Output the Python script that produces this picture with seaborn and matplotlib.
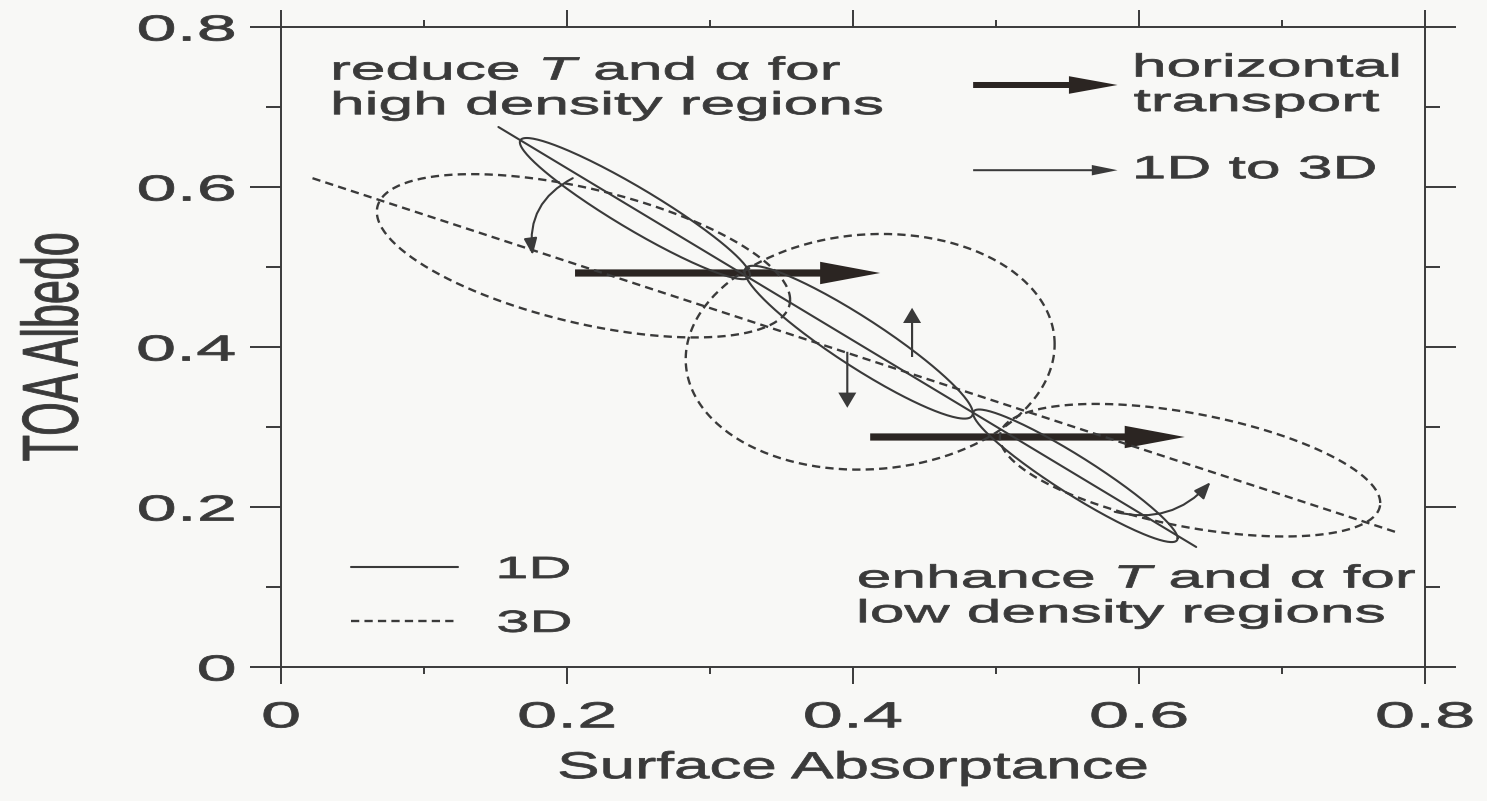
import numpy as np
import matplotlib
matplotlib.use("Agg")
import matplotlib.pyplot as plt
import seaborn as sns
from matplotlib.patheffects import AbstractPathEffect
from matplotlib.transforms import Affine2D

# straight fits through the 1D and 3D clouds (end points)
fit_1d_x = [0.152, 0.640]
fit_1d_y = [0.675, 0.150]
fit_3d_x = [0.022, 0.779]
fit_3d_y = [0.611, 0.169]

# ellipses: centre, half of the left-to-right diameter (ux, uy) and half height above the centre (h)
ell_1d_cx = [0.2475, 0.404, 0.5555]
ell_1d_cy = [0.573, 0.406, 0.239]
ell_1d_ux = [0.0805, 0.0798, 0.0715]
ell_1d_uy = [-0.083, -0.0885, -0.078]
ell_1d_h = [0.030, 0.036, 0.028]

ell_3d_cx = [0.2115, 0.412, 0.6357]
ell_3d_cy = [0.514, 0.394, 0.246]
ell_3d_ux = [0.1445, 0.129, 0.133]
ell_3d_uy = [-0.055, 0.0094, -0.041]
ell_3d_h = [0.086, 0.147, 0.072]

# horizontal transport arrows
push_x0 = [0.2056, 0.412]
push_x1 = [0.419, 0.632]
push_y = [0.4925, 0.2875]

# 1D -> 3D shifts: vertical arrows and curved arrows
shift_x = [0.4413, 0.396]
shift_y0 = [0.3875, 0.394]
shift_y1 = [0.449, 0.324]
bend_x0 = [0.204, 0.583]
bend_y0 = [0.611, 0.194]
bend_x1 = [0.176, 0.650]
bend_y1 = [0.515, 0.231]

ticks = [0, 0.2, 0.4, 0.6, 0.8]
tick_text = ["0", "0.2", "0.4", "0.6", "0.8"]
minor_ticks = [0.1, 0.3, 0.5, 0.7]


# the scanned page is squashed vertically, so every letter looks about twice as wide as tall
class Widen(AbstractPathEffect):
    def __init__(self, sx=2.0, anchor=0.0, stroke=0.6):
        super().__init__()
        self.sx = sx
        self.anchor = anchor
        self.stroke = stroke

    def draw_path(self, renderer, gc, tpath, affine, rgbFace=None):
        ext = tpath.get_extents()
        x0, y0 = affine.transform((ext.x0 + self.anchor * ext.width, 0))
        stretch = Affine2D().translate(-x0, -y0).scale(self.sx, 1).translate(x0, y0)
        gc0 = renderer.new_gc()
        gc0.copy_properties(gc)
        gc0.set_linewidth(self.stroke)
        gc0.set_foreground(rgbFace)
        renderer.draw_path(gc0, tpath, affine + stretch, rgbFace)
        gc0.restore()


sns.set_theme(style="ticks")
plt.rcParams["font.family"] = ["Liberation Sans", "DejaVu Sans"]
plt.rcParams["mathtext.fontset"] = "custom"
plt.rcParams["mathtext.rm"] = "Liberation Sans"
plt.rcParams["mathtext.it"] = "Liberation Sans:italic"

ink = "#3a3a3a"
arrow_ink = "#2b2522"
paper = "#f8f8f6"
dash = (0, (3.5, 2.2))

fig, ax = plt.subplots(figsize=(14.87, 8.01), dpi=100)
fig.patch.set_facecolor(paper)
ax.set_facecolor(paper)
fig.subplots_adjust(left=0.189, right=0.9583, bottom=0.1673, top=0.9663)

t = np.linspace(0, 2 * np.pi, 240)
for cx, cy, ux, uy, h in zip(ell_1d_cx, ell_1d_cy, ell_1d_ux, ell_1d_uy, ell_1d_h):
    sns.lineplot(x=cx + ux * np.cos(t), y=cy + uy * np.cos(t) + h * np.sin(t),
                 sort=False, estimator=None, color=ink, lw=1.5, ax=ax)
for cx, cy, ux, uy, h in zip(ell_3d_cx, ell_3d_cy, ell_3d_ux, ell_3d_uy, ell_3d_h):
    sns.lineplot(x=cx + ux * np.cos(t), y=cy + uy * np.cos(t) + h * np.sin(t),
                 sort=False, estimator=None, color=ink, lw=1.7, ls=dash, ax=ax)

sns.lineplot(x=fit_1d_x, y=fit_1d_y, color=ink, lw=1.5, label="1D", ax=ax)
sns.lineplot(x=fit_3d_x, y=fit_3d_y, color=ink, lw=1.7, ls=dash, label="3D", ax=ax)

for x0, x1, y in zip(push_x0, push_x1, push_y):
    ax.arrow(x0, y, x1 - x0, 0, width=0.009, head_width=0.028, head_length=0.042,
             length_includes_head=True, color=arrow_ink, lw=0)
for x, y0, y1 in zip(shift_x, shift_y0, shift_y1):
    ax.arrow(x, y0, 0, y1 - y0, width=0.0015, head_width=0.0126, head_length=0.019,
             length_includes_head=True, color=ink, lw=0)
for x0, y0, x1, y1, rad in zip(bend_x0, bend_y0, bend_x1, bend_y1, [0.35, 0.3]):
    ax.annotate("", xy=(x1, y1), xytext=(x0, y0),
                arrowprops=dict(arrowstyle="-|>,head_length=0.5,head_width=0.2",
                                connectionstyle=f"arc3,rad={rad}", color=ink, lw=1.5,
                                mutation_scale=20, shrinkA=0, shrinkB=0))

# key for the arrows, top right
ax.arrow(0.484, 0.7275, 0.101, 0, width=0.0075, head_width=0.022, head_length=0.034,
         length_includes_head=True, color=arrow_ink, lw=0)
ax.arrow(0.484, 0.621, 0.101, 0, width=0.0025, head_width=0.013, head_length=0.018,
         length_includes_head=True, color=ink, lw=0)

wide = [Widen(1.95)]
ax.text(0.0357, 0.763, "reduce $T$ and α for\nhigh density regions", fontsize=23,
        color=ink, va="top", ha="left", path_effects=wide)
ax.text(0.5965, 0.767, "horizontal\ntransport", fontsize=23, color=ink, va="top",
        ha="left", path_effects=wide)
ax.text(0.5965, 0.621, "1D to 3D", fontsize=23, color=ink, va="center", ha="left",
        path_effects=wide)
ax.text(0.4035, 0.128, "enhance $T$ and α for\nlow density regions", fontsize=23,
        color=ink, va="top", ha="left", path_effects=wide)

leg = ax.legend(loc="lower left", bbox_to_anchor=(0.061, 0.044), frameon=False,
                fontsize=22, handlelength=3.5, handletextpad=1.3, labelspacing=0.78,
                borderpad=0, borderaxespad=0)
for txt in leg.get_texts():
    txt.set_color(ink)
    txt.set_path_effects([Widen(1.95)])

ax.set_xlim(0, 0.8)
ax.set_ylim(0, 0.8)
ax.set_xticks(ticks, tick_text)
ax.set_yticks(ticks, tick_text)
ax.set_xticks(minor_ticks, minor=True)
ax.set_yticks(minor_ticks, minor=True)
ax.tick_params(which="both", direction="out", top=True, right=True, color=ink,
               width=1.4, labelcolor=ink)
ax.tick_params(axis="x", which="major", length=12, pad=12, labelsize=26)
ax.tick_params(axis="x", which="minor", length=5)
ax.tick_params(axis="y", which="major", length=22, pad=11, labelsize=26)
ax.tick_params(axis="y", which="minor", length=11)
for lab in ax.get_xticklabels():
    lab.set_path_effects([Widen(2.0, 0.5)])
for lab in ax.get_yticklabels():
    lab.set_path_effects([Widen(2.0, 1.0)])
for sp in ax.spines.values():
    sp.set_color(ink)
    sp.set_linewidth(1.4)

ax.set_xlabel("Surface Absorptance", fontsize=27, color=ink,
              path_effects=[Widen(1.7, 0.5)])
ax.set_ylabel("TOA Albedo", fontsize=31, color=ink, path_effects=[Widen(1.84, 0.5)])
ax.xaxis.set_label_coords(0.5, -0.13)
ax.yaxis.set_label_coords(-0.17, 0.5)

fig.savefig("out.png", dpi=100, facecolor=paper)
